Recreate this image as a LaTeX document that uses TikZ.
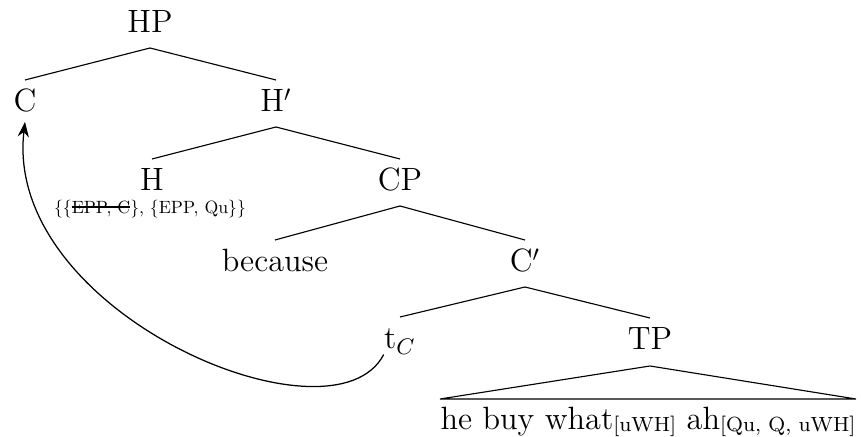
\documentclass[tikz,border=0pt]{standalone}
\usepackage{fontspec}
\newfontfamily\featfont{lmroman10-regular}[Extension=.otf]
\usetikzlibrary{arrows.meta, positioning}

%% feature bundles, set small and a little low
\newcommand{\featbox}[1]{\raisebox{-0.8pt}{\fontsize{8.2}{9}\selectfont[#1]}}
%% struck-out (checked) feature
\newlength{\strikelen}
\newcommand{\strikeout}[1]{\settowidth{\strikelen}{#1}\rlap{\rule[0.33em]{\strikelen}{0.7pt}}#1}

\begin{document}
\begin{tikzpicture}[
    x=0.4pt, y=-0.4pt,
    cat/.style={anchor=base, inner sep=0pt, font=\fontsize{12.9}{15}\selectfont},
    feat/.style={anchor=base, inner sep=0pt, font=\featfont\fontsize{7.1}{8.5}\selectfont},
    branch/.style={line width=0.45pt},
    move/.style={-{Stealth[length=6pt, width=4.5pt]}, line width=0.5pt}
]
\useasboundingbox (0,0) rectangle (861,437);

%% Categories
\node[cat] (hp)      at (150,33)  {HP};
\node[cat] (c)       at (25,112)  {C};
\node[cat] (hbar)    at (276,112) {H$'$};
\node[cat] (h)       at (152,191) {H};
\node[feat] (hfeat)  at (150,214) {\{\{\strikeout{EPP, C}\}, \{EPP, Qu\}\}};
\node[cat] (cp)      at (400,191) {CP};
\node[cat] (because) at (275,272) {because};
\node[cat] (cbar)    at (525,272) {C$'$};
\node[cat] (tc)      at (400,349) {t$_C$};
\node[cat] (tp)      at (650,350) {TP};
\node[cat] (words)   at (648,430) {he buy what\featbox{uWH} ah\featbox{Qu, Q, uWH}};

%% Branches
\foreach \p/\d in {hp/c, hp/hbar, hbar/h, hbar/cp, cp/because, cp/cbar, cbar/tc, cbar/tp}
    \draw[branch] ([yshift=-6pt]\p.base) -- ([yshift=12.8pt]\d.base);

%% Roof over TP
\draw[branch] ([yshift=-6.4pt]tp.base) -- ([yshift=12.4pt]words.base east)
    -- ([yshift=12.4pt]words.base west) -- cycle;

%% Movement of C
\draw[move] (tc.south west) .. controls +(-50,97) and +(-22,192) .. ([yshift=-4pt]c.base);

\end{tikzpicture}
\end{document}
